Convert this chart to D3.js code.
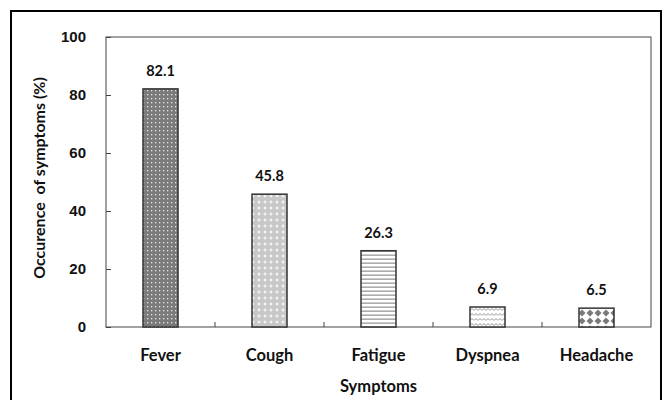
<!DOCTYPE html>
<html>
<head>
<meta charset="utf-8">
<script src="https://cdn.jsdelivr.net/npm/d3@7"></script>
<style>
  body { margin: 0; background: #fff; }
  text { font-family: Lato, "Open Sans", sans-serif; font-weight: bold; fill: #111; }
</style>
</head>
<body>
<svg id="chart" width="665" height="400"></svg>
<script>
var symptoms = ["Fever", "Cough", "Fatigue", "Dyspnea", "Headache"];
var occurrence = [82.1, 45.8, 26.3, 6.9, 6.5];
var yTicks = [0, 20, 40, 60, 80, 100];
var patterns = ["pDots", "pCross", "pLines", "pWave", "pDiamond"];

var svg = d3.select("#chart");
var margin = { top: 37, right: 14, bottom: 73, left: 106 };
var width = 665 - margin.left - margin.right,
    height = 400 - margin.top - margin.bottom;

/* patterns for the bar fills */
var defs = svg.append("defs");

var p1 = defs.append("pattern").attr("id", "pDots")
    .attr("width", 4).attr("height", 4).attr("patternUnits", "userSpaceOnUse");
p1.append("rect").attr("width", 4).attr("height", 4).attr("fill", "#7a7a7a");
p1.append("rect").attr("x", 1).attr("y", 1).attr("width", 1.3).attr("height", 1.3).attr("fill", "#e8e8e8");

var p2 = defs.append("pattern").attr("id", "pCross")
    .attr("width", 6).attr("height", 6).attr("patternUnits", "userSpaceOnUse");
p2.append("rect").attr("width", 6).attr("height", 6).attr("fill", "#c8c8c8");
p2.append("path").attr("d", "M3,1.5V4.5M1.5,3H4.5").attr("stroke", "#fff").attr("stroke-width", 1);

var p3 = defs.append("pattern").attr("id", "pLines")
    .attr("width", 4).attr("height", 4).attr("patternUnits", "userSpaceOnUse");
p3.append("rect").attr("width", 4).attr("height", 4).attr("fill", "#fff");
p3.append("rect").attr("y", 1.5).attr("width", 4).attr("height", 1.3).attr("fill", "#9a9a9a");

var p4 = defs.append("pattern").attr("id", "pWave")
    .attr("width", 8).attr("height", 5).attr("patternUnits", "userSpaceOnUse");
p4.append("rect").attr("width", 8).attr("height", 5).attr("fill", "#fff");
p4.append("path").attr("d", "M0,3.5L2,1.5L4,3.5L6,1.5L8,3.5")
    .attr("fill", "none").attr("stroke", "#888").attr("stroke-width", 0.9);

var p5 = defs.append("pattern").attr("id", "pDiamond")
    .attr("width", 8).attr("height", 8).attr("patternUnits", "userSpaceOnUse");
p5.append("rect").attr("width", 8).attr("height", 8).attr("fill", "#fff");
p5.append("path").attr("d", "M4,0.5L7.5,4L4,7.5L0.5,4Z").attr("fill", "#7a7a7a");

/* outer frame */
svg.append("rect").attr("x", 11).attr("y", 11).attr("width", 650).attr("height", 400)
    .attr("fill", "none").attr("stroke", "#000").attr("stroke-width", 2);

var g = svg.append("g").attr("transform", "translate(" + margin.left + "," + margin.top + ")");

var x = d3.scaleBand().domain(symptoms).range([0, width]).paddingInner(0).paddingOuter(0);
var y = d3.scaleLinear().domain([0, 100]).range([height, 0]);

/* plot box */
g.append("rect").attr("width", width).attr("height", height)
    .attr("fill", "none").attr("stroke", "#444").attr("stroke-width", 1);

/* y axis, ticks pointing inward */
var yAxis = g.append("g").call(d3.axisLeft(y).tickValues(yTicks).tickSize(-5).tickPadding(20));
yAxis.select(".domain").remove();
yAxis.selectAll("line").attr("stroke", "#444");
yAxis.selectAll("text").style("font-family", "'Liberation Sans Narrow', 'Liberation Sans', Arial, sans-serif")
    .style("font-size", "15px").attr("fill", "#111");

/* x axis: ticks between categories */
var xb = g.append("g").attr("transform", "translate(0," + height + ")");
xb.selectAll("line").data(symptoms.slice(1)).enter().append("line")
    .attr("x1", function(d) { return x(d); }).attr("x2", function(d) { return x(d); })
    .attr("y1", 0).attr("y2", -5).attr("stroke", "#444");
xb.selectAll("text").data(symptoms).enter().append("text")
    .attr("x", function(d) { return x(d) + x.bandwidth() / 2; })
    .attr("y", 34).attr("text-anchor", "middle").style("font-size", "16.5px")
    .text(function(d) { return d; });

/* bars */
var barW = 35;
g.selectAll(".bar").data(occurrence).enter().append("rect").attr("class", "bar")
    .attr("x", function(d, i) { return x(symptoms[i]) + x.bandwidth() / 2 - barW / 2; })
    .attr("y", function(d) { return y(d); })
    .attr("width", barW)
    .attr("height", function(d) { return height - y(d); })
    .attr("fill", function(d, i) { return "url(#" + patterns[i] + ")"; })
    .attr("stroke", "#333").attr("stroke-width", 1.5);

/* value labels */
g.selectAll(".val").data(occurrence).enter().append("text").attr("class", "val")
    .attr("x", function(d, i) { return x(symptoms[i]) + x.bandwidth() / 2; })
    .attr("y", function(d) { return y(d) - 13; })
    .attr("text-anchor", "middle").style("font-size", "14.5px")
    .text(function(d) { return d.toFixed(1); });

/* axis titles */
svg.append("text").attr("x", margin.left + width / 2).attr("y", 392)
    .attr("text-anchor", "middle").style("font-size", "16.5px").text("Symptoms");
svg.append("text").attr("transform", "translate(45," + (margin.top + height / 2 - 4) + ") rotate(-90)")
    .attr("text-anchor", "middle").style("font-size", "16px").style("white-space", "pre")
    .text("Occurence  of symptoms (%)");
</script>
</body>
</html>
